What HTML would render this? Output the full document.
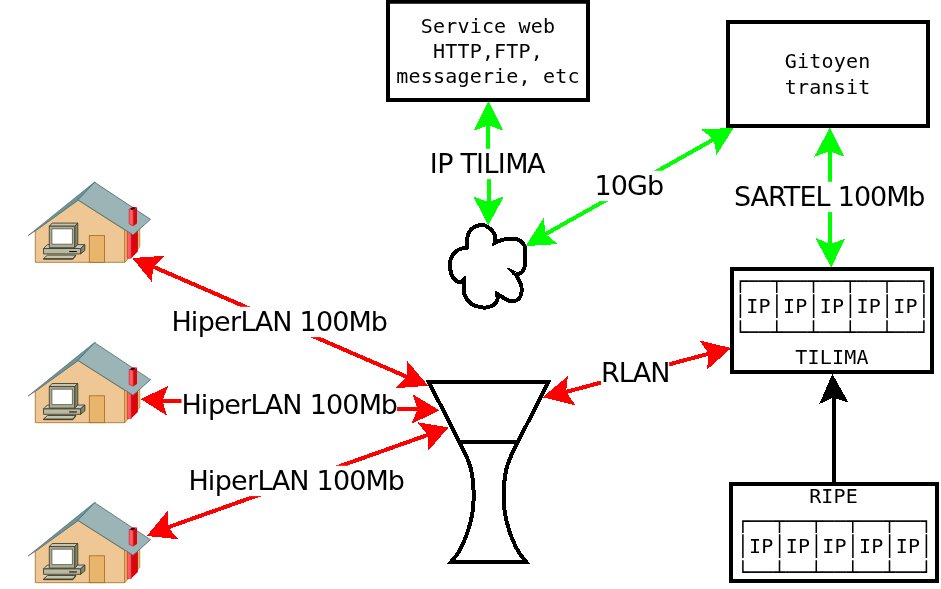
<!DOCTYPE html>
<html><head><meta charset="utf-8"><title>Reseau TILIMA</title>
<style>
html,body{margin:0;padding:0;background:#fff;}
svg{display:block;will-change:transform}
.lab{font-family:"DejaVu Sans","Liberation Sans",sans-serif;font-size:27px;fill:#000}
.mono{font-family:"DejaVu Sans Mono","Liberation Mono",monospace;font-size:20px;fill:#000;white-space:pre}
</style></head><body>
<svg width="941" height="589" viewBox="0 0 941 589">
<rect width="941" height="589" fill="#fff"/>

<g shape-rendering="crispEdges">
<polygon points="488.45,101.40 473.36,130.92 488.49,125.13 503.64,130.92" fill="#00ff00"/><polygon points="488.30,225.00 473.25,196.49 488.54,202.08 503.95,196.49" fill="#00ff00"/><line x1="488.49" y1="122.80" x2="488.52" y2="204.33" stroke="#00ff00" stroke-width="4"/>
<polygon points="525.66,246.11 543.58,218.01 545.68,233.99 557.59,244.08" fill="#00ff00"/><polygon points="733.65,127.80 701.19,129.54 713.74,139.38 716.56,154.89" fill="#00ff00"/><line x1="543.71" y1="235.18" x2="715.69" y2="138.24" stroke="#00ff00" stroke-width="4"/>
<polygon points="829.80,127.80 814.26,156.81 829.52,151.12 844.64,156.82" fill="#00ff00"/><polygon points="831.32,267.40 815.27,237.85 830.29,244.10 844.85,238.95" fill="#00ff00"/><line x1="829.54" y1="148.83" x2="830.39" y2="246.39" stroke="#00ff00" stroke-width="4"/>
<polygon points="132.23,258.05 164.86,255.78 153.21,266.70 151.82,281.90" fill="#ff0000"/><polygon points="428.17,385.75 407.23,361.00 406.66,376.81 395.57,388.25" fill="#ff0000"/><line x1="151.15" y1="265.85" x2="408.77" y2="377.69" stroke="#ff0000" stroke-width="4"/>
<polygon points="140.80,399.07 168.13,386.06 162.34,400.56 167.07,415.76" fill="#ff0000"/><polygon points="439.50,410.32 412.73,394.34 417.51,409.33 411.56,423.83" fill="#ff0000"/><line x1="160.23" y1="400.41" x2="419.67" y2="409.43" stroke="#ff0000" stroke-width="4"/>
<polygon points="146.63,535.95 167.59,511.00 167.82,527.25 178.39,539.28" fill="#ff0000"/><polygon points="448.48,427.46 417.43,422.30 427.69,434.93 427.82,451.21" fill="#ff0000"/><line x1="165.74" y1="528.11" x2="429.73" y2="434.20" stroke="#ff0000" stroke-width="4"/>
<polygon points="542.61,397.29 567.90,376.01 566.04,392.02 575.62,405.43" fill="#ff0000"/><polygon points="731.19,348.10 699.59,340.46 708.77,353.71 707.00,369.69" fill="#ff0000"/><line x1="563.74" y1="392.53" x2="710.97" y2="353.16" stroke="#ff0000" stroke-width="4"/>
<polygon points="832.38,373.80 819.28,403.97 833.62,397.53 848.55,402.69" fill="#000000"/><line x1="834.30" y1="484.00" x2="833.49" y2="395.20" stroke="#000000" stroke-width="4"/>
</g>
<rect x="429.70" y="148.80" width="114.79" height="30.30" fill="#fff"/><text x="429.70 437.19 452.50 460.57 476.09 483.57 497.72 505.21 527.12" y="173.00" class="lab">IP TILIMA</text>
<rect x="594.40" y="170.80" width="68.80" height="30.30" fill="#fff"/><text x="594.40 610.72 627.04 646.91" y="195.00" class="lab">10Gb</text>
<rect x="734.00" y="181.80" width="190.41" height="30.30" fill="#fff"/><text x="734.00 750.62 768.03 783.86 799.40 815.48 829.65 837.74 853.93 870.12 886.31 908.26" y="206.00" class="lab">SARTEL 100Mb</text>
<rect x="171.40" y="306.80" width="215.57" height="30.30" fill="#fff"/><text x="171.40 190.69 197.81 214.10 229.88 240.42 254.71 272.26 291.45 299.60 315.92 332.24 348.56 370.69" y="331.00" class="lab">HiperLAN 100Mb</text>
<rect x="181.50" y="389.80" width="215.57" height="30.30" fill="#fff"/><text x="181.50 200.79 207.91 224.20 239.98 250.52 264.81 282.36 301.55 309.70 326.02 342.34 358.66 380.79" y="414.00" class="lab">HiperLAN 100Mb</text>
<rect x="188.40" y="465.80" width="215.57" height="30.30" fill="#fff"/><text x="188.40 207.69 214.81 231.10 246.88 257.42 271.71 289.26 308.45 316.60 332.92 349.24 365.56 387.69" y="490.00" class="lab">HiperLAN 100Mb</text>
<rect x="601.00" y="357.80" width="68.16" height="30.30" fill="#fff"/><text x="601.00 618.64 632.79 650.16" y="382.00" class="lab">RLAN</text>
<g>
<polygon points="35.3,262.3 35.3,230.9 78.1,200.2 124.7,230 124.7,262.3" fill="#efc794" stroke="#a5691f" stroke-width="0.8"/>
<polygon points="124.7,230 128.2,230 128.2,258.6 124.7,262.3" fill="#e9b46c" stroke="#a5691f" stroke-width="0.6"/>
<polygon points="137.4,229.5 139.8,227.6 139.8,246.8 137.4,249.6" fill="#e9b46c" stroke="#a5691f" stroke-width="0.6"/>
<polygon points="127.3,230.5 131.1,233.5 131.1,258.2 127.3,258.2" fill="#ff5f62" stroke="#c8102a" stroke-width="0.6"/>
<polygon points="131.1,233.5 137.9,228.5 137.9,251.6 131.1,258.2" fill="#d9050c"/>
<polygon points="28,235.7 94.2,182.3 95.4,182.3 78.1,200.2 35.3,230.9" fill="#6b959a" stroke="#456a6f" stroke-width="0.6"/>
<polygon points="94.6,182.3 150.5,219.3 133.1,234.9 77.9,199.9" fill="#9bb4b6" stroke="#456a6f" stroke-width="0.8"/>
<polygon points="129.2,209 133.3,210 133.3,225.9 129.2,224" fill="#ff5f62" stroke="#c8102a" stroke-width="0.6"/>
<polygon points="133.3,210 137,207.2 137,223.6 133.3,225.9" fill="#d9050c"/>
<polygon points="129.2,209 132.6,206.8 137,207.2 133.3,210" fill="#c8102a"/><ellipse cx="132.9" cy="208.6" rx="2.1" ry="0.9" fill="#1a0000" transform="rotate(-12 132.9 208.6)"/>
<rect x="89.3" y="235.4" width="15.2" height="26.9" fill="#e9b46c" stroke="#a5691f" stroke-width="0.8"/>
<g stroke="#3f3f33" stroke-width="0.9" stroke-linejoin="round">
<polygon points="47.4,244.6 84.9,244.6 80.6,248.5 43.5,248.5" fill="#c9c9b3"/>
<polygon points="80.6,248.5 84.9,244.6 84.9,250.4 80.6,253.9" fill="#87876a"/>
<rect x="43.5" y="248.5" width="37.1" height="5.4" fill="#b9b9a0"/>
<polygon points="47.4,255.1 75.8,255.1 72.8,258.7 43.5,258.7" fill="#c6c6af"/>
<polygon points="43.5,258.7 72.8,258.7 75.8,255.1 75.8,256 72.9,259.5 43.5,259.5" fill="#45453a" stroke-width="0.4"/>
<polygon points="49.3,226.2 52.1,223.1 77.8,223.1 74.7,226.2" fill="#c5c5ad"/>
<polygon points="74.7,226.2 77.8,223.1 77.8,244.6 74.7,247.7" fill="#86866a"/>
<rect x="49.3" y="226.2" width="25.4" height="21.5" fill="#aeae94"/>
<rect x="51.9" y="228.8" width="20.5" height="15.4" fill="#ffffff" stroke-width="0.7"/>
</g>
<rect x="69.2" y="251" width="7.6" height="1.1" fill="#111"/>
</g>
<g transform="translate(0,160.4)"><g>
<polygon points="35.3,262.3 35.3,230.9 78.1,200.2 124.7,230 124.7,262.3" fill="#efc794" stroke="#a5691f" stroke-width="0.8"/>
<polygon points="124.7,230 128.2,230 128.2,258.6 124.7,262.3" fill="#e9b46c" stroke="#a5691f" stroke-width="0.6"/>
<polygon points="137.4,229.5 139.8,227.6 139.8,246.8 137.4,249.6" fill="#e9b46c" stroke="#a5691f" stroke-width="0.6"/>
<polygon points="127.3,230.5 131.1,233.5 131.1,258.2 127.3,258.2" fill="#ff5f62" stroke="#c8102a" stroke-width="0.6"/>
<polygon points="131.1,233.5 137.9,228.5 137.9,251.6 131.1,258.2" fill="#d9050c"/>
<polygon points="28,235.7 94.2,182.3 95.4,182.3 78.1,200.2 35.3,230.9" fill="#6b959a" stroke="#456a6f" stroke-width="0.6"/>
<polygon points="94.6,182.3 150.5,219.3 133.1,234.9 77.9,199.9" fill="#9bb4b6" stroke="#456a6f" stroke-width="0.8"/>
<polygon points="129.2,209 133.3,210 133.3,225.9 129.2,224" fill="#ff5f62" stroke="#c8102a" stroke-width="0.6"/>
<polygon points="133.3,210 137,207.2 137,223.6 133.3,225.9" fill="#d9050c"/>
<polygon points="129.2,209 132.6,206.8 137,207.2 133.3,210" fill="#c8102a"/><ellipse cx="132.9" cy="208.6" rx="2.1" ry="0.9" fill="#1a0000" transform="rotate(-12 132.9 208.6)"/>
<rect x="89.3" y="235.4" width="15.2" height="26.9" fill="#e9b46c" stroke="#a5691f" stroke-width="0.8"/>
<g stroke="#3f3f33" stroke-width="0.9" stroke-linejoin="round">
<polygon points="47.4,244.6 84.9,244.6 80.6,248.5 43.5,248.5" fill="#c9c9b3"/>
<polygon points="80.6,248.5 84.9,244.6 84.9,250.4 80.6,253.9" fill="#87876a"/>
<rect x="43.5" y="248.5" width="37.1" height="5.4" fill="#b9b9a0"/>
<polygon points="47.4,255.1 75.8,255.1 72.8,258.7 43.5,258.7" fill="#c6c6af"/>
<polygon points="43.5,258.7 72.8,258.7 75.8,255.1 75.8,256 72.9,259.5 43.5,259.5" fill="#45453a" stroke-width="0.4"/>
<polygon points="49.3,226.2 52.1,223.1 77.8,223.1 74.7,226.2" fill="#c5c5ad"/>
<polygon points="74.7,226.2 77.8,223.1 77.8,244.6 74.7,247.7" fill="#86866a"/>
<rect x="49.3" y="226.2" width="25.4" height="21.5" fill="#aeae94"/>
<rect x="51.9" y="228.8" width="20.5" height="15.4" fill="#ffffff" stroke-width="0.7"/>
</g>
<rect x="69.2" y="251" width="7.6" height="1.1" fill="#111"/>
</g></g>
<g transform="translate(0,320.4)"><g>
<polygon points="35.3,262.3 35.3,230.9 78.1,200.2 124.7,230 124.7,262.3" fill="#efc794" stroke="#a5691f" stroke-width="0.8"/>
<polygon points="124.7,230 128.2,230 128.2,258.6 124.7,262.3" fill="#e9b46c" stroke="#a5691f" stroke-width="0.6"/>
<polygon points="137.4,229.5 139.8,227.6 139.8,246.8 137.4,249.6" fill="#e9b46c" stroke="#a5691f" stroke-width="0.6"/>
<polygon points="127.3,230.5 131.1,233.5 131.1,258.2 127.3,258.2" fill="#ff5f62" stroke="#c8102a" stroke-width="0.6"/>
<polygon points="131.1,233.5 137.9,228.5 137.9,251.6 131.1,258.2" fill="#d9050c"/>
<polygon points="28,235.7 94.2,182.3 95.4,182.3 78.1,200.2 35.3,230.9" fill="#6b959a" stroke="#456a6f" stroke-width="0.6"/>
<polygon points="94.6,182.3 150.5,219.3 133.1,234.9 77.9,199.9" fill="#9bb4b6" stroke="#456a6f" stroke-width="0.8"/>
<polygon points="129.2,209 133.3,210 133.3,225.9 129.2,224" fill="#ff5f62" stroke="#c8102a" stroke-width="0.6"/>
<polygon points="133.3,210 137,207.2 137,223.6 133.3,225.9" fill="#d9050c"/>
<polygon points="129.2,209 132.6,206.8 137,207.2 133.3,210" fill="#c8102a"/><ellipse cx="132.9" cy="208.6" rx="2.1" ry="0.9" fill="#1a0000" transform="rotate(-12 132.9 208.6)"/>
<rect x="89.3" y="235.4" width="15.2" height="26.9" fill="#e9b46c" stroke="#a5691f" stroke-width="0.8"/>
<g stroke="#3f3f33" stroke-width="0.9" stroke-linejoin="round">
<polygon points="47.4,244.6 84.9,244.6 80.6,248.5 43.5,248.5" fill="#c9c9b3"/>
<polygon points="80.6,248.5 84.9,244.6 84.9,250.4 80.6,253.9" fill="#87876a"/>
<rect x="43.5" y="248.5" width="37.1" height="5.4" fill="#b9b9a0"/>
<polygon points="47.4,255.1 75.8,255.1 72.8,258.7 43.5,258.7" fill="#c6c6af"/>
<polygon points="43.5,258.7 72.8,258.7 75.8,255.1 75.8,256 72.9,259.5 43.5,259.5" fill="#45453a" stroke-width="0.4"/>
<polygon points="49.3,226.2 52.1,223.1 77.8,223.1 74.7,226.2" fill="#c5c5ad"/>
<polygon points="74.7,226.2 77.8,223.1 77.8,244.6 74.7,247.7" fill="#86866a"/>
<rect x="49.3" y="226.2" width="25.4" height="21.5" fill="#aeae94"/>
<rect x="51.9" y="228.8" width="20.5" height="15.4" fill="#ffffff" stroke-width="0.7"/>
</g>
<rect x="69.2" y="251" width="7.6" height="1.1" fill="#111"/>
</g></g>
<path d="M467.00,247.60 C467.00,245.13 466.77,242.48 467.00,240.20 C467.23,237.92 467.73,235.67 468.40,233.90 C469.07,232.13 469.83,230.80 471.00,229.60 C472.17,228.40 473.77,227.48 475.40,226.70 C477.02,225.92 479.10,225.08 480.75,224.90 C482.40,224.72 483.78,224.97 485.30,225.60 C486.82,226.23 488.52,227.50 489.90,228.70 C491.28,229.90 492.75,231.50 493.60,232.80 C494.45,234.10 494.77,235.20 495.00,236.50 C495.23,237.80 495.08,239.52 495.00,240.60 C494.92,241.68 494.67,242.20 494.50,243.00 C496.33,242.20 497.87,241.30 500.00,240.60 C502.13,239.90 505.17,239.13 507.30,238.80 C509.43,238.47 510.97,238.45 512.80,238.60 C514.63,238.75 516.68,238.98 518.30,239.70 C519.92,240.42 521.42,241.75 522.50,242.90 C523.58,244.05 524.38,245.07 524.80,246.60 C525.22,248.13 524.97,249.28 525.00,252.10 C525.03,254.92 525.19,260.68 525.00,263.50 C524.81,266.32 524.58,267.38 523.85,269.00 C523.12,270.62 521.94,272.27 520.60,273.20 C519.26,274.13 517.40,274.13 515.80,274.60 C516.63,276.10 517.42,277.43 518.30,279.10 C519.18,280.77 520.55,282.78 521.10,284.60 C521.65,286.42 521.60,288.32 521.60,290.00 C521.60,291.68 521.65,293.16 521.10,294.70 C520.55,296.24 519.52,298.18 518.30,299.25 C517.08,300.32 515.47,300.88 513.80,301.10 C512.13,301.33 510.13,301.22 508.30,300.60 C506.47,299.98 504.63,298.50 502.80,297.40 C500.97,296.30 499.13,295.13 497.30,294.00 C497.30,296.07 497.92,298.41 497.30,300.20 C496.68,301.99 495.44,303.53 493.60,304.75 C491.76,305.97 488.55,307.12 486.25,307.50 C483.95,307.88 482.09,307.46 479.80,307.00 C477.51,306.54 474.63,306.04 472.50,304.75 C470.37,303.46 468.38,301.08 467.00,299.25 C465.62,297.42 464.75,296.04 464.25,293.75 C463.75,291.46 464.04,287.88 464.00,285.50 C463.96,283.12 464.00,281.50 464.00,279.50 C462.87,280.43 461.93,282.13 460.60,282.30 C459.27,282.47 457.45,281.65 456.00,280.50 C454.55,279.35 452.90,277.62 451.90,275.40 C450.90,273.18 450.27,269.60 450.00,267.20 C449.73,264.80 450.07,262.62 450.30,261.00 C450.53,259.38 450.75,258.83 451.40,257.50 C452.05,256.17 452.97,254.32 454.20,253.00 C455.43,251.68 457.23,250.40 458.75,249.60 C460.27,248.80 461.93,248.53 463.30,248.20 C464.68,247.87 465.77,247.80 467.00,247.60 Z" fill="#fff" stroke="#000" stroke-width="4" stroke-linejoin="miter" stroke-miterlimit="4" shape-rendering="crispEdges"/>
<polygon points="506.25,267 513.4,275.6 516.3,271.3" fill="#000" shape-rendering="crispEdges"/>
<g fill="#fff" stroke="#000" stroke-width="4" stroke-linejoin="miter" stroke-miterlimit="10" shape-rendering="crispEdges">
<path d="M459.40,442.00 C461.48,446.20 463.82,450.45 465.65,454.60 C467.48,458.75 469.23,462.80 470.40,466.90 C471.57,471.00 472.12,475.10 472.65,479.20 C473.18,483.30 473.47,487.40 473.60,491.50 C473.72,495.60 473.70,499.70 473.40,503.80 C473.10,507.90 472.58,512.00 471.80,516.10 C471.02,520.20 469.95,524.30 468.70,528.40 C467.45,532.50 466.07,536.60 464.30,540.70 C462.53,544.80 460.26,549.53 458.10,553.00 C455.94,556.47 453.60,558.67 451.35,561.50 L525.95,561.50 C523.70,558.67 521.36,556.47 519.20,553.00 C517.04,549.53 514.77,544.80 513.00,540.70 C511.23,536.60 509.85,532.50 508.60,528.40 C507.35,524.30 506.28,520.20 505.50,516.10 C504.72,512.00 504.20,507.90 503.90,503.80 C503.60,499.70 503.57,495.60 503.70,491.50 C503.82,487.40 504.12,483.30 504.65,479.20 C505.18,475.10 505.73,471.00 506.90,466.90 C508.07,462.80 509.82,458.75 511.65,454.60 C513.48,450.45 515.82,446.20 517.90,442.00 Z"/>
<polygon points="428.8,382 548.3,382 517.90,442 459.40,442"/>
</g>
<rect x="388.00" y="1.75" width="200.00" height="98.25" fill="#fff" stroke="#000" stroke-width="4"/>
<rect x="728.00" y="22.00" width="200.00" height="104.00" fill="#fff" stroke="#000" stroke-width="4"/>
<rect x="732.00" y="269.00" width="200.00" height="103.00" fill="#fff" stroke="#000" stroke-width="4"/>
<rect x="731.00" y="484.00" width="206.00" height="97.00" fill="#fff" stroke="#000" stroke-width="4"/>
<text x="420.72 432.95 445.18 457.42 469.65 481.88 494.12 506.35 518.58 530.82 543.05" y="33.00" class="mono" xml:space="preserve">Service web</text>
<text x="432.95 445.18 457.42 469.65 481.88 494.12 506.35 518.58 530.82" y="58.00" class="mono" xml:space="preserve">HTTP,FTP,</text>
<text x="396.25 408.49 420.72 432.95 445.18 457.42 469.65 481.88 494.12 506.35 518.58 530.82 543.05 555.28 567.51" y="83.00" class="mono" xml:space="preserve">messagerie, etc</text>
<text x="784.78 797.02 809.25 821.48 833.72 845.95 858.18" y="68.00" class="mono" xml:space="preserve">Gitoyen</text>
<text x="784.78 797.02 809.25 821.48 833.72 845.95 858.18" y="94.00" class="mono" xml:space="preserve">transit</text>
<text x="734.14 746.37 758.60 770.83 783.07 795.30 807.53 819.77 832.00 844.23 856.47 868.70 880.93 893.16 905.40 917.63" y="287.70" class="mono" xml:space="preserve">┌──┬──┬──┬──┬──┐</text>
<text x="734.14 746.37 758.60 770.83 783.07 795.30 807.53 819.77 832.00 844.23 856.47 868.70 880.93 893.16 905.40 917.63" y="313.00" class="mono" xml:space="preserve">│IP│IP│IP│IP│IP│</text>
<text x="734.14 746.37 758.60 770.83 783.07 795.30 807.53 819.77 832.00 844.23 856.47 868.70 880.93 893.16 905.40 917.63" y="338.70" class="mono" xml:space="preserve">└──┴──┴──┴──┴──┘</text>
<text x="795.30 807.53 819.77 832.00 844.23 856.47" y="364.00" class="mono" xml:space="preserve">TILIMA</text>
<text x="809.13 821.37 833.60 845.83" y="503.00" class="mono" xml:space="preserve">RIPE</text>
<text x="736.74 748.97 761.20 773.43 785.67 797.90 810.13 822.37 834.60 846.83 859.07 871.30 883.53 895.76 908.00 920.23" y="528.00" class="mono" xml:space="preserve">┌──┬──┬──┬──┬──┐</text>
<text x="736.74 748.97 761.20 773.43 785.67 797.90 810.13 822.37 834.60 846.83 859.07 871.30 883.53 895.76 908.00 920.23" y="553.00" class="mono" xml:space="preserve">│IP│IP│IP│IP│IP│</text>
<text x="736.74 748.97 761.20 773.43 785.67 797.90 810.13 822.37 834.60 846.83 859.07 871.30 883.53 895.76 908.00 920.23" y="579.00" class="mono" xml:space="preserve">└──┴──┴──┴──┴──┘</text>
</svg></body></html>
